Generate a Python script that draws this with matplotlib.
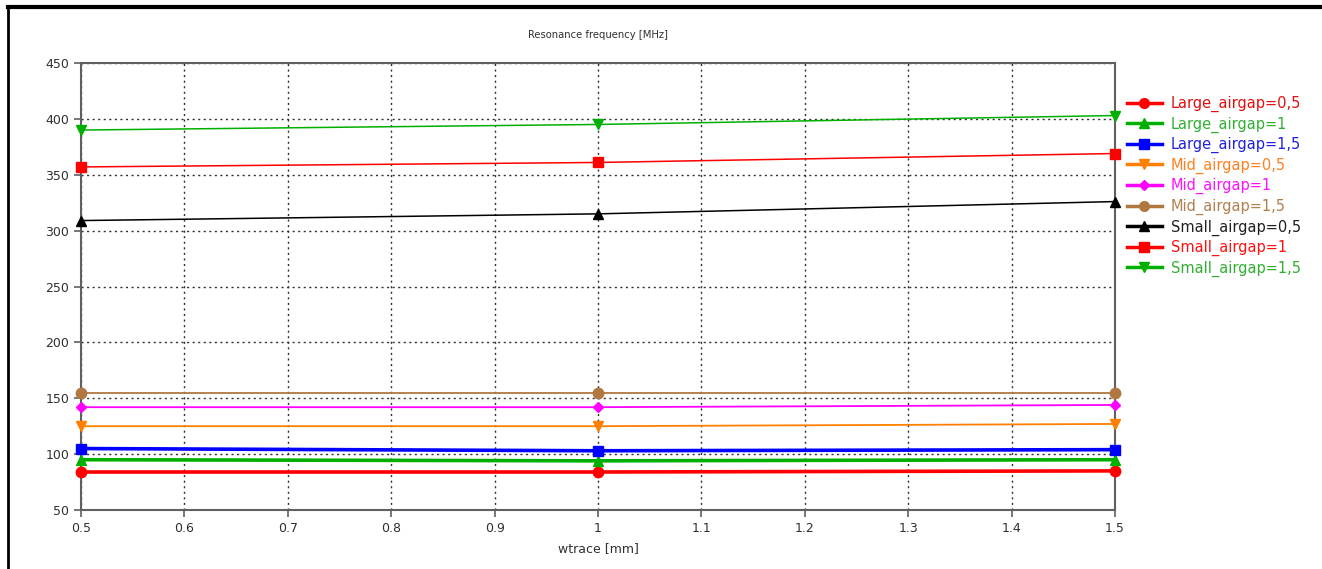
import matplotlib
matplotlib.use("Agg")
import matplotlib.pyplot as plt
from matplotlib.lines import Line2D

plt.rcParams['font.family'] = ['DejaVu Sans']

wtrace = [0.5, 1.0, 1.5]
x_ticks = [0.5, 0.6, 0.7, 0.8, 0.9, 1.0, 1.1, 1.2, 1.3, 1.4, 1.5]
x_tick_labels = ["0.5", "0.6", "0.7", "0.8", "0.9", "1", "1.1", "1.2", "1.3", "1.4", "1.5"]
y_ticks = [50, 100, 150, 200, 250, 300, 350, 400, 450]

labels = ["Large_airgap=0,5", "Large_airgap=1", "Large_airgap=1,5",
          "Mid_airgap=0,5", "Mid_airgap=1", "Mid_airgap=1,5",
          "Small_airgap=0,5", "Small_airgap=1", "Small_airgap=1,5"]

large_05 = [84, 84, 85]
large_1 = [95, 94, 95]
large_15 = [105, 103, 104]
mid_05 = [125, 125, 127]
mid_1 = [142, 142, 144]
mid_15 = [155, 155, 155]
small_05 = [309, 315, 326]
small_1 = [357, 361, 369]
small_15 = [390, 395, 403]

series = [large_05, large_1, large_15, mid_05, mid_1, mid_15, small_05, small_1, small_15]
colors = ["#ff0000", "#00b000", "#0000ff", "#ff7f00", "#ff00ff", "#b07840",
          "#000000", "#ff0000", "#00b000"]
legend_text_colors = ["#e01010", "#30b030", "#2020e0", "#ff8020", "#ff10ff", "#b08050",
                      "#202020", "#ff1010", "#30b030"]
markers = ["o", "^", "s", "v", "D", "o", "^", "s", "v"]
msizes = [7.5, 7.5, 7.5, 7.5, 5.5, 7.5, 7.5, 7.5, 7.5]
lwidths = [2.6, 2.6, 2.6, 1.3, 1.3, 1.3, 1.1, 1.1, 1.1]

fig = plt.figure(figsize=(13.22, 5.69), dpi=100)
W, H = 1322, 569
ax = fig.add_axes([81 / W, 1 - 510 / H, (1115 - 81) / W, (510 - 63) / H])

for s, c, m, ms, lw in zip(series, colors, markers, msizes, lwidths):
    ax.plot(wtrace, s, color=c, marker=m, markersize=ms, linewidth=lw,
            clip_on=False, zorder=3)

ax.set_xlim(0.5, 1.5)
ax.set_ylim(50, 450)
ax.set_xticks(x_ticks)
ax.set_xticklabels(x_tick_labels)
ax.set_yticks(y_ticks)
ax.grid(True, color="#303030", linestyle=(0, (1.5, 2.5)), linewidth=1.0)
for sp in ax.spines.values():
    sp.set_color("#606060")
    sp.set_linewidth(1.5)
ax.tick_params(colors="#606060", labelcolor="#303030", labelsize=9, length=5, width=1.2)
ax.set_xlabel("wtrace [mm]", fontsize=9, color="#303030", labelpad=5)
fig.text(598 / W, 1 - 35 / H, "Resonance frequency [MHz]", ha="center", va="center",
         fontsize=7.2, color="#303030")

handles = [Line2D([0], [0], color=c, marker=m, markersize=ms - 0.5, linewidth=2.5)
           for c, m, ms in zip(colors, markers, msizes)]
leg = fig.legend(handles, labels, loc="upper left",
                 bbox_to_anchor=(1121 / W, 1 - 90 / H), frameon=False,
                 fontsize=10.5, handlelength=2.4, handletextpad=0.6,
                 labelspacing=0.3, borderaxespad=0)
for t, c in zip(leg.get_texts(), legend_text_colors):
    t.set_color(c)

# outer frame lines
fig.add_artist(Line2D([8 / W, 1 - 1 / W], [1 - 7 / H, 1 - 7 / H], color="black",
                      linewidth=3, transform=fig.transFigure))
fig.add_artist(Line2D([8 / W, 8 / W], [1 - 7 / H, 0], color="black",
                      linewidth=2, transform=fig.transFigure))

fig.savefig("out.png", dpi=100)
